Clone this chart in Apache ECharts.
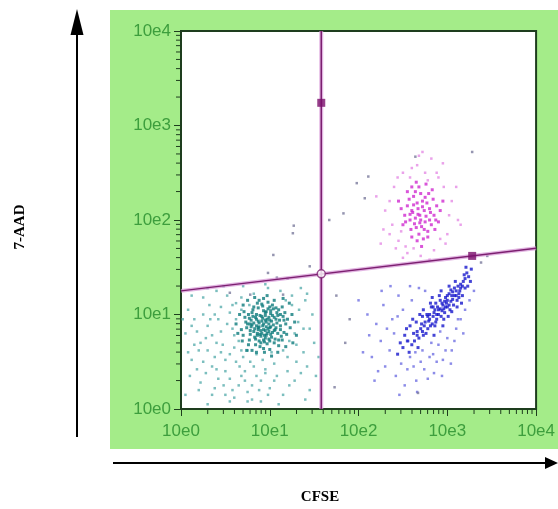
<!DOCTYPE html>
<html>
<head>
<meta charset="utf-8">
<script src="https://cdn.jsdelivr.net/npm/echarts@6.0.0/dist/echarts.min.js"></script>
<style>
  html, body { margin: 0; padding: 0; background: #fff; }
  #chart { width: 558px; height: 509px; }
</style>
</head>
<body>
<div id="chart"></div>
<script>
// all values are in decades (log10 of intensity), axis runs 10e0 .. 10e4
const decadeTicks = [0, 1, 2, 3, 4];
const minorLogs = [0.301, 0.477, 0.602, 0.699, 0.778, 0.845, 0.903, 0.954];

// quadrant gate
const gateVertical = [[1.58, 0], [1.58, 4]];
const gateSlant = [[0, 1.25], [4, 1.70]];
const gateHandles = [[1.58, 3.24], [3.28, 1.62]];
const gateCentre = [[1.58, 1.43]];

// teal population (lower left)
const tealCore = [
  [0.92,0.88],[0.85,0.95],[1.01,0.79],[0.78,0.83],[0.95,1.02],[1.08,0.91],[0.88,0.72],[0.99,0.97],[0.81,1.05],[1.12,0.84],
  [0.94,0.78],[0.87,0.86],[1.04,1.06],[0.73,0.92],[0.97,0.69],[1.15,0.98],[0.83,0.76],[0.91,1.11],[1.06,0.74],[0.76,1.0],
  [0.98,0.85],[0.89,0.99],[1.02,0.93],[0.8,0.89],[0.93,0.64],[1.1,1.05],[0.86,0.8],[0.96,0.92],[1.13,0.77],[0.7,0.78],
  [0.9,0.83],[1.0,1.08],[0.84,0.68],[1.07,0.86],[0.92,0.96],[0.79,0.94],[1.18,0.9],[0.95,0.75],[0.87,1.07],[1.03,0.81],
  [0.74,0.86],[0.99,0.9],[1.09,0.99],[0.82,0.82],[0.93,1.04],[1.05,0.7],[0.88,0.91],[0.97,0.8],[0.77,0.73],[1.11,0.94],
  [0.9,0.77],[1.01,1.01],[0.85,0.88],[0.94,0.71],[1.14,1.08],[0.81,0.98],[0.96,0.87],[1.06,0.84],[0.72,0.97],[0.91,0.93],
  [1.0,0.72],[0.86,1.12],[1.04,0.89],[0.83,0.85],[0.95,0.99],[1.16,0.81],[0.78,0.79],[0.98,1.06],[0.89,0.66],[1.08,1.02],
  [0.93,0.84],[0.8,1.02],[1.02,0.76],[0.87,0.93],[1.12,0.88],[0.75,0.9],[0.97,0.95],[1.05,0.97],[0.84,0.74],[0.92,1.09],
  [1.2,0.95],[0.68,0.84],[0.99,0.82],[0.88,0.87],[1.03,1.1],[0.9,0.7],[1.09,0.8],[0.82,0.91],[0.95,0.83],[1.0,0.94],
  [0.86,0.78],[1.07,1.07],[0.93,0.9],[0.79,0.87],[1.14,0.73],[0.96,1.03],[0.85,1.0],[1.01,0.87],[0.91,0.8],[1.17,1.02],
  [1.23,0.86],[0.71,1.03],[0.94,0.6],[1.1,0.67],[0.88,1.15],[1.0,0.63],[0.76,0.68],[1.25,1.0],[0.98,1.13],[1.19,0.79],
  [0.62,0.9],[0.66,1.0],[0.69,0.72],[0.64,0.8],[1.28,0.92],[1.3,0.78],[1.22,1.12],[1.26,0.7],[0.7,1.1],[0.75,1.15],
  [1.05,1.15],[1.15,1.17],[0.83,1.18],[0.97,1.2],[1.09,0.6],[0.85,0.6],[0.8,0.62],[1.18,0.66],[0.74,0.62],[1.02,0.56],
  [0.91,0.98],[0.96,0.78],[1.03,0.99],[0.87,0.84],[0.99,0.74],[1.07,0.95],[0.84,0.97],[0.93,0.73],[1.12,1.0],[0.78,0.9],
  [0.95,0.94],[1.0,0.86],[0.89,0.79],[1.05,0.83],[0.82,1.08],[1.16,0.94],[0.93,1.17],[1.1,0.73],[0.77,0.96],[1.01,1.04]
];
const tealHalo = [
  [0.15,0.95],[0.32,1.1],[0.45,0.82],[0.22,0.7],[0.55,1.02],[0.6,0.65],[0.38,0.55],[0.5,0.4],[0.28,0.38],[0.12,0.52],
  [0.66,0.45],[0.72,0.3],[0.85,0.35],[0.95,0.42],[1.05,0.48],[1.2,0.55],[1.3,0.68],[1.38,0.85],[1.33,1.05],[1.25,1.2],
  [1.12,1.25],[0.98,1.28],[0.82,1.22],[0.68,1.18],[0.52,1.2],[0.4,1.25],[0.25,1.18],[0.08,1.05],[0.05,0.8],[0.1,0.35],
  [0.2,0.2],[0.35,0.15],[0.48,0.25],[0.6,0.12],[0.75,0.18],[0.9,0.08],[1.0,0.22],[1.15,0.15],[1.28,0.3],[1.42,0.45],
  [1.45,0.2],[1.5,0.7],[1.48,1.0],[1.4,1.15],[0.58,0.85],[0.62,0.95],[0.42,0.95],[0.35,0.78],[0.3,0.88],[0.18,0.82],
  [0.47,0.68],[0.55,0.58],[0.65,0.72],[0.7,0.55],[0.78,0.5],[0.85,0.58],[0.92,0.52],[1.02,0.6],[1.15,0.62],[1.22,0.72],
  [1.28,0.8],[1.32,0.92],[1.25,1.1],[1.18,1.15],[0.58,1.1],[0.45,1.08],[0.38,1.0],[0.25,1.0],[0.2,0.62],[0.3,0.62],
  [0.4,0.42],[0.55,0.32],[0.65,0.25],[0.8,0.25],[0.9,0.3],[1.08,0.35],[1.2,0.4],[0.72,0.4],[0.82,0.45],[0.62,0.5],
  [0.5,0.52],[0.45,0.6],[0.35,0.45],[0.25,0.5],[0.15,0.68],[0.08,0.6],[0.12,1.2],[0.3,1.28],[0.48,1.3],[0.7,1.3],
  [0.95,1.32],[1.35,1.28],[1.55,0.55],[1.52,0.35],[1.4,0.1],[1.1,0.05],[0.8,0.1],[0.55,0.08],[0.3,0.05],[0.05,0.15],
  [0.68,0.62],[0.75,0.62],[0.6,0.78],[0.52,0.9],[0.68,1.05],[0.62,1.12],[0.77,1.1],[0.4,0.7],[0.33,0.95],[1.3,0.5],
  [1.38,0.6],[1.35,0.38],[0.98,0.15],[0.68,0.35],[0.42,0.32],[0.18,0.42],[0.22,0.28],[1.45,0.85],[0.02,0.95],[0.58,0.2],
  [0.88,0.2],[1.22,0.25],[0.5,0.15],[0.38,0.22],[1.05,0.3],[0.95,0.38],[0.75,0.08],[0.28,0.75],[0.12,0.88],[1.42,1.22]
];

// blue population (lower right)
const blueCore = [
  [2.55,0.72],[2.62,0.8],[2.7,0.85],[2.75,0.92],[2.8,0.95],[2.85,1.02],[2.9,1.05],[2.95,1.1],[3.0,1.15],[3.05,1.2],
  [3.1,1.25],[3.15,1.32],[3.2,1.38],[3.22,1.44],[2.6,0.68],[2.68,0.75],[2.72,0.98],[2.78,0.85],[2.82,1.08],[2.88,0.95],
  [2.92,1.15],[2.97,1.02],[3.02,1.22],[3.07,1.1],[3.12,1.3],[3.17,1.2],[3.2,1.28],[2.5,0.65],[2.58,0.88],[2.65,0.92],
  [2.73,0.78],[2.77,1.0],[2.83,0.9],[2.87,1.12],[2.93,0.98],[2.98,1.18],[3.03,1.05],[3.08,1.28],[3.13,1.18],[3.18,1.35],
  [2.84,0.98],[2.9,1.0],[2.96,1.06],[3.0,1.08],[2.94,1.12],[2.86,1.05],[2.8,1.0],[3.04,1.14],[3.1,1.2],[2.74,0.88],
  [2.66,0.82],[2.71,0.9],[2.79,0.93],[2.89,1.08],[2.99,1.12],[3.06,1.16],[3.14,1.25],[3.24,1.4],[3.19,1.42],[3.09,1.35],
  [2.91,1.2],[2.81,1.12],[2.69,1.0],[2.63,0.72],[2.76,0.8],[2.86,0.88],[2.96,0.95],[3.05,1.03],[3.16,1.12],[3.23,1.3],
  [2.52,0.78],[2.57,0.6],[2.67,0.65],[2.85,0.78],[2.95,0.88],[3.01,0.98],[3.11,1.08],[3.26,1.35],[3.27,1.48],[3.21,1.5],
  [2.83,1.18],[2.73,1.05],[2.93,1.25],[3.02,1.3],[2.61,0.95],[2.54,0.85],[2.47,0.7],[2.44,0.58],
  [2.88,1.0],[2.92,1.06],[2.98,1.08],[3.02,1.1],[3.06,1.24],[3.11,1.15],[3.15,1.28],[2.84,1.08],[2.78,0.98],[2.72,0.82],
  [2.66,0.78],[2.94,1.04],[3.0,1.2],[3.08,1.2],[3.13,1.22],[3.17,1.3],[2.87,0.92],[2.81,0.88],[2.97,1.14],[3.04,1.26]
];
const blueHalo = [
  [2.15,0.55],[2.25,0.72],[2.3,0.45],[2.38,0.95],[2.42,0.35],[2.5,1.05],[2.55,0.42],[2.6,1.15],[2.65,0.3],[2.7,0.5],
  [2.75,1.25],[2.8,0.55],[2.85,0.38],[2.9,0.68],[2.95,0.52],[3.0,0.75],[3.05,0.62],[3.1,0.85],[3.15,0.95],[3.2,1.05],
  [2.2,0.9],[2.28,1.1],[2.35,0.62],[2.4,0.8],[2.45,1.2],[2.48,0.48],[2.52,0.25],[2.58,0.55],[2.62,0.45],[2.68,1.28],
  [2.72,0.62],[2.78,0.32],[2.82,0.7],[2.88,0.5],[2.92,0.82],[2.98,0.62],[3.08,0.72],[3.12,0.95],[3.25,1.15],[3.3,1.25],
  [2.05,0.6],[2.1,1.0],[2.18,0.3],[2.32,0.85],[2.36,1.3],[2.44,0.98],[2.56,0.72],[2.64,0.6],[2.74,0.42],[2.84,0.58],
  [2.12,0.78],[2.22,0.4],[2.46,0.15],[2.66,0.18],[2.94,0.35],[3.04,0.48],[2.0,1.15],[2.26,1.25],[2.58,1.3],[3.18,0.8]
];

// magenta population (upper right)
const magentaCore = [
  [2.69,2.05],[2.6,2.1],[2.75,1.98],[2.65,1.92],[2.8,2.12],[2.58,2.0],[2.72,2.2],[2.62,2.25],[2.78,1.88],[2.85,2.05],
  [2.55,2.15],[2.68,1.85],[2.74,2.1],[2.64,2.02],[2.82,1.95],[2.7,2.28],[2.59,1.9],[2.77,2.18],[2.67,2.12],[2.88,2.15],
  [2.52,2.05],[2.63,1.96],[2.76,2.04],[2.71,1.93],[2.84,2.22],[2.57,2.22],[2.66,2.18],[2.8,2.0],[2.73,1.8],[2.61,2.08],
  [2.9,1.98],[2.68,2.35],[2.5,1.95],[2.79,2.28],[2.6,1.82],[2.86,1.9],[2.7,2.0],[2.64,2.3],[2.75,2.24],[2.55,2.3],
  [2.83,2.32],[2.92,2.1],[2.48,2.12],[2.66,1.78],[2.78,1.82],[2.62,2.16],[2.72,2.14],[2.69,1.97],[2.58,2.06],[2.81,2.08],
  [2.74,1.9],[2.67,2.06],[2.87,2.0],[2.53,1.98],[2.65,2.4],[2.76,2.38],[2.6,2.35],[2.95,2.2],[2.45,2.2],[2.71,1.72]
];
const magentaHalo = [
  [2.3,2.1],[2.35,1.85],[2.4,2.35],[2.42,1.7],[2.5,2.5],[2.55,1.65],[2.6,2.55],[2.7,1.62],[2.75,2.5],[2.85,1.68],
  [2.9,2.45],[3.0,1.85],[3.05,2.2],[3.1,2.35],[2.95,2.6],[2.82,2.65],[2.72,2.72],[2.68,2.68],[2.5,1.6],[2.38,1.95],
  [2.2,2.25],[2.25,1.75],[2.45,1.78],[2.98,1.75],[3.12,2.0],[2.62,1.7],[2.8,1.58],[2.88,2.5],[2.58,2.45],[2.35,2.2],
  [2.92,1.8],[3.02,2.05],[2.48,1.88],[2.44,2.45],[2.66,2.58],[2.78,2.42],[3.15,1.95],[2.28,1.9],[2.96,2.35],[2.53,1.72]
];

// scattered events
const strayEvents = [
  [1.04,1.63],[1.27,1.94],[1.26,1.86],[1.45,1.51],[1.67,2.0],[1.83,2.07],[1.98,2.39],[2.11,2.46],[2.64,2.67],[3.28,2.72],
  [2.07,2.23],[0.98,1.44],[1.08,1.39],[1.2,1.38],[0.55,1.23],[0.78,1.21],[1.15,1.21],[1.73,0.23],[2.67,0.17],[1.9,0.95],
  [1.75,1.2],[1.85,0.7],[3.45,1.62],[3.38,1.55]
];

const labelGreen = '#3d9e3d';
const frameColor = '#1e3d1e';
const gateColor = '#7c1f70';

const chart = echarts.init(document.getElementById('chart'));

function dots(data, color, size) {
  return {
    type: 'scatter',
    data: data,
    symbol: 'rect',
    symbolSize: size,
    itemStyle: { color: color },
    silent: true
  };
}

function tickSeries(data, horizontal) {
  return {
    type: 'custom',
    data: data,
    clip: false,
    silent: true,
    renderItem: (params, api) => {
      const p = horizontal ? api.coord([api.value(0), 0]) : api.coord([0, api.value(0)]);
      const len = 5;
      return {
        type: 'line',
        shape: horizontal
          ? { x1: p[0], y1: p[1], x2: p[0], y2: p[1] + len }
          : { x1: p[0], y1: p[1], x2: p[0] - len, y2: p[1] },
        style: { stroke: frameColor, lineWidth: 1 }
      };
    }
  };
}

const minorPositions = decadeTicks.slice(0, 4).flatMap(d => minorLogs.map(m => [d + m]));

const axisCommon = {
  type: 'value',
  min: 0,
  max: 4,
  interval: 1,
  axisLine: { show: true, lineStyle: { color: frameColor, width: 2 } },
  axisTick: { show: true, length: 7, lineStyle: { color: frameColor, width: 1 } },
  splitLine: { show: false },
  axisLabel: {
    color: labelGreen,
    fontSize: 17,
    fontFamily: 'Liberation Sans, Arial, sans-serif',
    formatter: v => '10e' + v
  }
};

chart.setOption({
  backgroundColor: '#ffffff',
  animation: false,
  graphic: [
    { type: 'rect', z: -10, shape: { x: 110, y: 10, width: 448, height: 439 }, style: { fill: '#a4ec89' } },
    // y arrow
    { type: 'line', shape: { x1: 77, y1: 437, x2: 77, y2: 30 }, style: { stroke: '#000', lineWidth: 2 } },
    { type: 'polygon', shape: { points: [[77, 9], [70.5, 35], [83.5, 35]] }, style: { fill: '#000' } },
    // x arrow
    { type: 'line', shape: { x1: 113, y1: 463, x2: 548, y2: 463 }, style: { stroke: '#000', lineWidth: 2 } },
    { type: 'polygon', shape: { points: [[558, 463], [545, 457], [545, 469]] }, style: { fill: '#000' } },
    {
      type: 'text', x: 20, y: 227, rotation: Math.PI / 2,
      style: { text: '7-AAD', fill: '#000', font: 'bold 15px "Liberation Serif", "Times New Roman", serif', align: 'center', verticalAlign: 'middle' }
    },
    {
      type: 'text', x: 320, y: 497,
      style: { text: 'CFSE', fill: '#000', font: 'bold 15px "Liberation Serif", "Times New Roman", serif', align: 'center', verticalAlign: 'middle' }
    }
  ],
  grid: {
    left: 181, top: 31, right: 20, bottom: 100,
    show: true,
    backgroundColor: '#ffffff',
    borderColor: frameColor,
    borderWidth: 2
  },
  xAxis: Object.assign({}, axisCommon, {
    axisLabel: Object.assign({}, axisCommon.axisLabel, { margin: 14 })
  }),
  yAxis: Object.assign({}, axisCommon, {
    axisLabel: Object.assign({}, axisCommon.axisLabel, { margin: 10 })
  }),
  series: [
    tickSeries(minorPositions, true),
    tickSeries(minorPositions, false),
    dots(tealHalo, '#5aaeae', 2.5),
    dots(tealCore, '#0c7b7c', 3),
    dots(blueHalo, '#6f6fe2', 2.5),
    dots(blueCore, '#1717cc', 3),
    dots(magentaHalo, '#e58be5', 2.5),
    dots(magentaCore, '#cf2acf', 3),
    dots(strayEvents, '#7b7b9c', 2.5),
    // gate lines: soft halo underneath, dark stroke on top
    { type: 'line', data: gateVertical, symbol: 'none', silent: true, lineStyle: { color: 'rgba(214,150,214,0.7)', width: 4 } },
    { type: 'line', data: gateSlant, symbol: 'none', silent: true, lineStyle: { color: 'rgba(214,150,214,0.7)', width: 4 } },
    { type: 'line', data: gateVertical, symbol: 'none', silent: true, lineStyle: { color: gateColor, width: 1.5 } },
    { type: 'line', data: gateSlant, symbol: 'none', silent: true, lineStyle: { color: gateColor, width: 1.5 } },
    {
      type: 'scatter', data: gateHandles, symbol: 'rect', symbolSize: 8, silent: true,
      itemStyle: { color: '#7a0f6c' }, z: 5
    },
    {
      type: 'scatter', data: gateCentre, symbol: 'circle', symbolSize: 8, silent: true,
      itemStyle: { color: '#ffffff', borderColor: gateColor, borderWidth: 1.5 }, z: 5
    }
  ]
});
</script>
</body>
</html>
